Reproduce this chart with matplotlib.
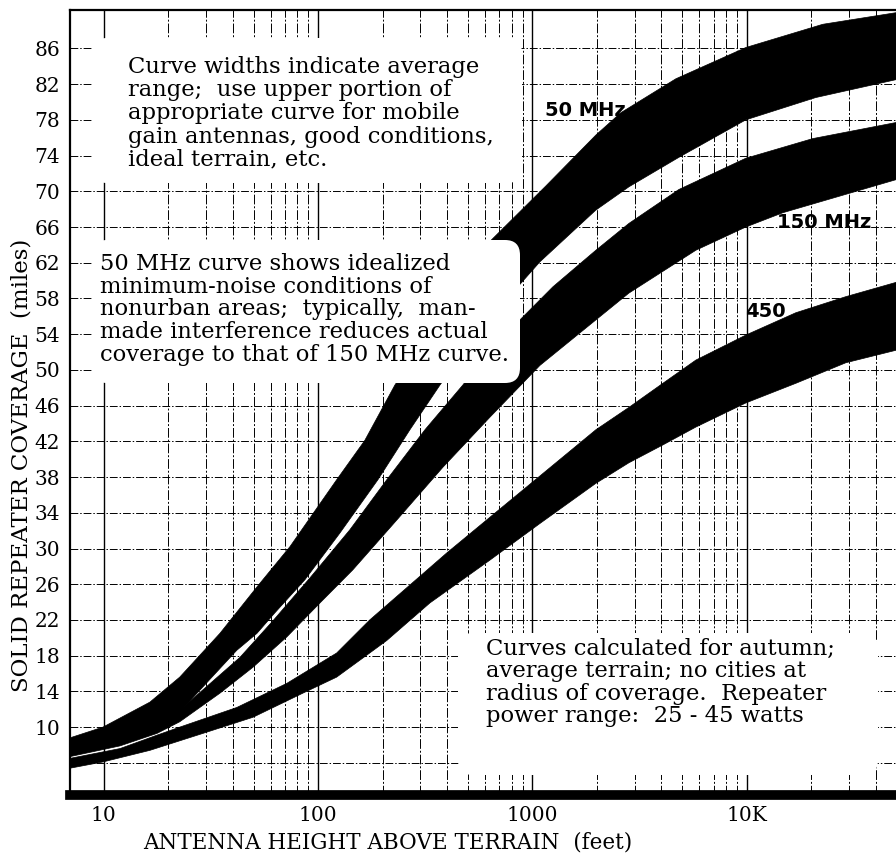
import numpy as np
import matplotlib
matplotlib.use("Agg")
import matplotlib.pyplot as plt
from matplotlib.patches import FancyBboxPatch
from matplotlib.ticker import FixedLocator, NullFormatter

plt.rcParams['font.family'] = 'DejaVu Serif'

# band edges: antenna height (feet) -> coverage (miles)
mhz50_up_x = [6.95, 9.9, 16.4, 22.6, 34.8, 51.8, 73.8, 122, 165, 228, 370, 640, 1155, 1977, 2585, 4670, 9900, 22630, 49700]
mhz50_up_y = [8.8, 10.0, 12.8, 15.6, 20.5, 25.7, 30.2, 37.7, 42.1, 48.3, 55.8, 64.5, 70.6, 76.3, 78.8, 82.6, 86.1, 88.7, 90.0]
mhz50_lo_x = [6.95, 11.9, 22.6, 41.7, 51.8, 62.8, 86.7, 126, 190, 268, 370, 568, 883, 1083, 1977, 2818, 4820, 9900, 21000, 49700]
mhz50_lo_y = [7.2, 8.1, 11.7, 18.6, 20.5, 22.8, 26.5, 31.7, 37.7, 43.3, 48.3, 54.5, 59.7, 62.1, 67.9, 70.5, 73.8, 78.0, 80.5, 82.5]

mhz150_up_x = [6.95, 11.9, 22.6, 43.1, 61.5, 91.5, 140.6, 209, 315, 473, 633, 874, 1245, 1977, 2818, 4820, 9900, 20320, 49700]
mhz150_up_y = [7.6, 8.3, 11.9, 17.8, 21.9, 26.7, 32.1, 37.7, 43.3, 48.3, 52.2, 55.6, 59.3, 63.4, 66.4, 70.2, 73.7, 75.9, 77.7]
mhz150_lo_x = [6.95, 11.9, 17.7, 22.6, 34.8, 49.6, 71.4, 101.9, 145, 233, 382, 633, 1083, 1977, 2818, 5788, 9900, 14730, 49700]
mhz150_lo_y = [6.7, 7.9, 9.3, 10.6, 13.8, 16.7, 20.1, 23.9, 27.6, 33.2, 39.1, 44.7, 50.5, 55.6, 58.6, 63.4, 66.0, 67.6, 71.3]

mhz450_up_x = [6.95, 11.9, 17.7, 22.6, 41.7, 71.4, 122, 174, 398, 633, 1977, 2818, 4060, 5788, 9900, 16940, 28980, 49700]
mhz450_up_y = [6.5, 7.6, 9.1, 10.0, 12.2, 14.9, 18.3, 22.0, 29.5, 33.5, 43.3, 45.8, 48.5, 51.1, 53.9, 56.4, 58.2, 59.8]
mhz450_lo_x = [6.95, 9.9, 16.4, 29.0, 49.6, 84.8, 122, 174, 209, 332, 633, 1083, 1977, 2818, 4060, 5788, 9900, 16940, 28980, 49700]
mhz450_lo_y = [5.4, 6.1, 7.4, 9.3, 11.1, 13.8, 15.6, 18.3, 19.7, 23.9, 28.7, 32.8, 37.3, 39.6, 41.6, 43.6, 46.3, 48.5, 50.8, 52.2]

ytick_vals = list(range(6, 90, 4))
ytick_labels = [''] + [str(v) for v in range(10, 90, 4)]
xtick_vals = [10, 100, 1000, 10000]
xtick_labels = ['10', '100', '1000', '10K']

note1 = ("Curve widths indicate average\nrange;  use upper portion of\n"
         "appropriate curve for mobile\ngain antennas, good conditions,\nideal terrain, etc.")
note2 = ("50 MHz curve shows idealized\nminimum-noise conditions of\n"
         "nonurban areas;  typically,  man-\nmade interference reduces actual\n"
         "coverage to that of 150 MHz curve.")
note3 = ("Curves calculated for autumn;\naverage terrain; no cities at\n"
         "radius of coverage.  Repeater\npower range:  25 - 45 watts")

fig = plt.figure(figsize=(8.96, 8.55), dpi=100)
ax = fig.add_axes([70 / 896, 60 / 855, 826 / 896, 785 / 855])
ax.set_xscale('log')
ax.set_xlim(6.95, 49700)
ax.set_ylim(2.4, 90.3)

# grid
minor = []
for d in [10, 100, 1000, 10000]:
    for m in range(2, 10):
        if d * m < 49700:
            minor.append(d * m)
ax.xaxis.set_major_locator(FixedLocator(xtick_vals))
ax.xaxis.set_minor_locator(FixedLocator(minor))
ax.xaxis.set_minor_formatter(NullFormatter())
ax.set_xticklabels(xtick_labels)
ax.set_yticks(ytick_vals)
ax.set_yticklabels(ytick_labels)
ax.set_axisbelow(True)
ax.grid(True, which='major', axis='x', color='black', lw=1.0, ls='-')
ax.grid(True, which='minor', axis='x', color='black', lw=0.7, ls=(0, (10, 2, 2, 2)))
ax.grid(True, which='major', axis='y', color='black', lw=0.7, ls=(0, (8, 2, 1.5, 2)))
ax.tick_params(axis='both', which='both', length=0, labelsize=14.5)
ax.tick_params(axis='y', pad=7)
ax.tick_params(axis='x', pad=8)

# bands
for xu, yu, xl, yl in [(mhz50_up_x, mhz50_up_y, mhz50_lo_x, mhz50_lo_y),
                       (mhz150_up_x, mhz150_up_y, mhz150_lo_x, mhz150_lo_y),
                       (mhz450_up_x, mhz450_up_y, mhz450_lo_x, mhz450_lo_y)]:
    ax.fill(np.r_[xu, xl[::-1]], np.r_[yu, yl[::-1]], color='black', lw=0.5, zorder=2)

# white note boxes (in figure inches)
for x0, y0, w, h in [(0.92, 6.72, 4.30, 1.45), (0.92, 4.72, 4.28, 1.43), (4.58, 0.80, 4.20, 1.42)]:
    ax.add_patch(FancyBboxPatch((x0, y0), w, h, boxstyle="round,pad=0,rounding_size=0.15",
                                transform=fig.dpi_scale_trans, fc='white', ec='none',
                                zorder=3, clip_on=False))

fig.text(128 / 896, 1 - 113.5 / 855, note1, ha='left', va='center', fontsize=16.3,
         linespacing=1.06, zorder=5)
fig.text(100 / 896, 1 - 309.5 / 855, note2, ha='left', va='center', fontsize=16.3,
         linespacing=1.05, zorder=5)
fig.text(486 / 896, 1 - 682.5 / 855, note3, ha='left', va='center', fontsize=16.3,
         linespacing=1.02, zorder=5)

lab = dict(family='DejaVu Sans', weight='heavy', fontsize=14, ha='center', va='center', zorder=4)
ax.text(1758, 79.1, '50 MHz', **lab)
ax.text(22900, 66.5, '150 MHz', **lab)
ax.text(12270, 56.5, '450', **lab)

for s in ['left', 'top']:
    ax.spines[s].set_linewidth(1.6)
ax.spines['bottom'].set_linewidth(7)
ax.spines['right'].set_visible(False)

fig.text(388 / 896, 1 - 842 / 855, 'ANTENNA HEIGHT ABOVE TERRAIN  (feet)', ha='center',
         va='center', fontsize=15.5)
fig.text(22 / 896, 1 - 465 / 855, 'SOLID REPEATER COVERAGE  (miles)', ha='center',
         va='center', rotation=90, fontsize=16.5)

fig.savefig('out.png', dpi=100)
